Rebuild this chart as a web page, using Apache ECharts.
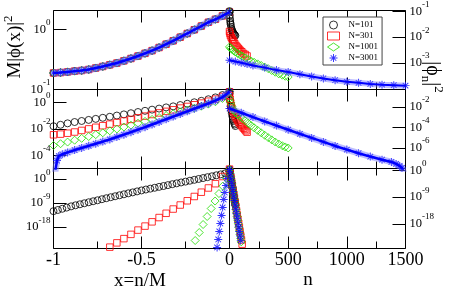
<!DOCTYPE html>
<html><head><meta charset="utf-8">
<script src="https://cdn.jsdelivr.net/npm/echarts@6/dist/echarts.min.js"></script>
<style>html,body{margin:0;padding:0;background:#fff}#c{width:457px;height:288px}</style>
</head><body><div id="c"></div>
<script>
// ---------------- DATA ----------------
const seriesNames = ['N=101', 'N=301', 'N=1001', 'N=3001'];

// shared x grid (x = n/M) for the left halves
const xL = [-1,-0.96,-0.92,-0.88,-0.84,-0.8,-0.76,-0.72,-0.68,-0.64,-0.6,-0.56,-0.52,-0.48,-0.44,-0.4,-0.36,-0.32,-0.28,-0.24,-0.2,-0.16,-0.12,-0.08,-0.04,0];

// panel 1 left: M|phi(x)|^2 (all N collapse)
const p1L = [0.189,0.192,0.197,0.203,0.208,0.216,0.229,0.243,0.259,0.277,0.302,0.330,0.363,0.403,0.447,0.504,0.573,0.653,0.750,0.865,1.00,1.153,1.334,1.496,1.706,1.972];

// panel 2 left
const p2L_N101 = [0.0162,0.0209,0.0269,0.0339,0.0407,0.0490,0.0589,0.0708,0.0851,0.105,0.129,0.158,0.195,0.240,0.295,0.355,0.437,0.525,0.661,0.832,1.07,1.38,1.82,2.51,3.80,7.08];
const p2L_N301 = [3.63e-3,4.07e-3,4.79e-3,5.89e-3,7.76e-3,1.02e-2,1.35e-2,1.78e-2,2.34e-2,3.09e-2,4.07e-2,5.37e-2,7.08e-2,9.55e-2,0.126,0.166,0.219,0.288,0.389,0.513,0.692,0.933,1.29,1.86,2.95,6.76];
const p2L_N1001 = [5.62e-4,7.59e-4,1.02e-3,1.41e-3,1.95e-3,2.69e-3,3.72e-3,5.13e-3,7.24e-3,1.0e-2,1.41e-2,1.95e-2,2.75e-2,3.80e-2,5.37e-2,7.41e-2,0.105,0.145,0.200,0.275,0.380,0.537,0.776,1.17,2.09,6.76];
const xP2L_N3001 = [-1,-0.995,-0.99,-0.98,-0.97,-0.95,-0.92,-0.88,-0.84,-0.8,-0.76,-0.72,-0.68,-0.64,-0.6,-0.56,-0.52,-0.48,-0.44,-0.4,-0.36,-0.32,-0.28,-0.24,-0.2,-0.16,-0.12,-0.08,-0.04,-0.02,0];
const p2L_N3001 = [3.2e-8,1.0e-6,6.3e-6,4.0e-5,8.9e-5,1.2e-4,1.66e-4,2.51e-4,3.63e-4,5.25e-4,7.59e-4,1.10e-3,1.62e-3,2.45e-3,3.72e-3,5.75e-3,8.91e-3,1.38e-2,2.19e-2,3.47e-2,5.50e-2,8.71e-2,0.138,0.219,0.347,0.550,0.871,1.45,2.63,3.98,7.08];

// panel 3 left
const xP3L_N101 = [-1,-0.975,-0.95,-0.925,-0.9,-0.875,-0.85,-0.825,-0.8,-0.775,-0.75,-0.725,-0.7,-0.675,-0.65,-0.625,-0.6,-0.575,-0.55,-0.525,-0.5,-0.475,-0.45,-0.425,-0.4,-0.375,-0.35,-0.325,-0.3,-0.275,-0.25,-0.225,-0.2,-0.175,-0.15,-0.125,-0.1,-0.075,-0.05,-0.025,0];
const p3L_N101 = [1.0e-12,2.8e-12,7.9e-12,2.2e-11,6.3e-11,1.6e-10,3.8e-10,9.1e-10,2.2e-9,5.2e-9,1.2e-8,3.0e-8,7.1e-8,1.7e-7,3.9e-7,9.1e-7,2.1e-6,4.9e-6,1.1e-5,2.6e-5,5.9e-5,1.3e-4,2.8e-4,5.9e-4,1.3e-3,2.7e-3,5.9e-3,1.3e-2,2.7e-2,5.8e-2,0.12,0.26,0.56,1.2,2.6,5.6,12,28,63,150,760];
const xP3L_N301 = [-0.72,-0.68,-0.64,-0.6,-0.56,-0.52,-0.48,-0.44,-0.4,-0.36,-0.32,-0.28,-0.24,-0.2,-0.16,-0.12,-0.08,-0.04,0];
const p3L_N301 = [1e-27,3.2e-26,1.3e-24,5.0e-23,2.0e-21,7.9e-20,2.5e-18,1.0e-16,4.0e-15,1.6e-13,6.3e-12,2.0e-10,7.9e-9,3.2e-7,1.3e-5,5.0e-4,2.0e-2,10,790];
const xP3L_N1001 = [-0.195,-0.172,-0.15,-0.127,-0.104,-0.082,-0.06,-0.038,-0.017,0];
const p3L_N1001 = [1e-23,1e-20,1e-17,1e-14,1e-11,6.3e-9,4.0e-6,2.5e-3,2.0,790];
const xP3L_N3001 = [-0.0705,-0.064,-0.058,-0.052,-0.045,-0.039,-0.033,-0.027,-0.02,-0.014,0];
const p3L_N3001 = [2.5e-26,2.5e-23,2.5e-20,2.5e-17,2.5e-14,2.5e-11,2.5e-8,1.0e-5,4.0e-3,1.8,790];

// panel 1 right: |phi_n|^2 vs n
const nP1R_N101 = [0,2,4,6,8,10,14,18,22,26,30,35,40,45,50];
const p1R_N101 = [0.104,0.0705,0.0537,0.0430,0.0359,0.0313,0.0250,0.0209,0.0183,0.0164,0.0150,0.0137,0.0127,0.0120,0.0115];
const nP1R_N301 = [0,4,8,15,22,30,37,45,55,65,75,85,95,105,120,135,150];
const p1R_N301 = [0.0167,0.0140,0.0116,0.0098,0.0085,0.0074,0.0065,0.0056,0.0047,0.00414,0.0037,0.0033,0.0029,0.0027,0.0023,0.0021,0.00185];
const nP1R_N1001 = [0,10,20,35,50,70,90,110,135,160,185,210,240,270,300,330,360,390,420,450,475,500];
const p1R_N1001 = [4.17e-3,3.72e-3,3.39e-3,2.95e-3,2.63e-3,2.29e-3,2.04e-3,1.82e-3,1.55e-3,1.35e-3,1.17e-3,1.05e-3,9.1e-4,7.9e-4,6.8e-4,5.9e-4,5.0e-4,4.3e-4,3.7e-4,3.3e-4,3.0e-4,2.8e-4];
const nP1R_N3001 = [0,50,100,150,200,300,400,500,600,700,800,900,1000,1100,1200,1300,1400,1500];
const p1R_N3001 = [1.26e-3,1.12e-3,1.0e-3,8.9e-4,7.9e-4,6.5e-4,5.2e-4,4.4e-4,3.6e-4,2.95e-4,2.45e-4,2.1e-4,1.82e-4,1.66e-4,1.51e-4,1.41e-4,1.35e-4,1.29e-4];

// panel 2 right
const nP2R_N101 = [0,5,10,15,20,25,30,35,40,45,50];
const p2R_N101 = [0.204,0.0427,0.0110,4.47e-3,2.29e-3,1.17e-3,6.6e-4,4.27e-4,2.69e-4,1.95e-4,1.38e-4];
const nP2R_N301 = [0,5,10,15,20,30,40,50,60,70,80,90,100,110,120,130,140,150];
const p2R_N301 = [0.132,0.0562,0.0251,0.0132,7.94e-3,3.55e-3,1.91e-3,1.12e-3,7.08e-4,4.68e-4,3.16e-4,2.19e-4,1.58e-4,1.15e-4,8.51e-5,6.31e-5,4.68e-5,3.47e-5];
const nP2R_N1001 = [0,10,20,35,50,70,90,110,135,160,185,210,240,270,300,330,360,390,420,450,475,500];
const p2R_N1001 = [0.0661,0.0251,0.0112,5.01e-3,3.16e-3,1.91e-3,1.17e-3,7.59e-4,4.37e-4,2.57e-4,1.51e-4,9.33e-5,5.25e-5,3.02e-5,1.74e-5,1.02e-5,6.17e-6,3.80e-6,2.45e-6,1.66e-6,1.26e-6,1.0e-6];
const nP2R_N3001 = [0,100,200,300,400,500,600,700,800,900,1000,1100,1200,1300,1380,1420,1450,1470,1485,1500];
const p2R_N3001 = [7.08e-3,2.69e-3,1.02e-3,3.89e-4,1.51e-4,6.03e-5,2.40e-5,9.55e-6,3.89e-6,1.58e-6,6.92e-7,3.09e-7,1.45e-7,7.24e-8,4.37e-8,2.82e-8,1.78e-8,1.12e-8,3.98e-9,1e-10];

// panel 3 right
const nP3R_N101 = [0,3,6,9,12,15,18,21,24,27,30,33,36,39,42,45,48,50];
const p3R_N101 = [2.5,0.48,0.091,0.017,3.3e-3,6.3e-4,1.2e-4,2.3e-5,4.4e-6,8.3e-7,1.6e-7,3.0e-8,5.8e-9,1.1e-9,2.1e-10,4.0e-11,7.6e-12,2.5e-12];
const nP3R_N301 = [0,6,12,18,24,30,36,42,48,54,60,66,72,78,84,90,96,102,108];
const p3R_N301 = [3.2,0.12,4.8e-3,1.9e-4,7.2e-6,2.8e-7,1.1e-8,4.3e-10,1.7e-11,6.5e-13,2.5e-14,9.8e-16,3.8e-17,1.5e-18,5.8e-20,2.2e-21,8.7e-23,3.4e-24,1.3e-25];
const nP3R_N1001 = [0,5,10,15,20,25,30,35,40,45,50,55,60,65,70,75,80,85,90,95,100];
const p3R_N1001 = [2.5,0.15,8.9e-3,5.2e-4,3.2e-5,1.9e-6,1.1e-7,6.6e-9,4.0e-10,2.3e-11,1.4e-12,8.3e-14,5.0e-15,3.0e-16,1.8e-17,1.0e-18,6.3e-20,3.7e-21,2.2e-22,1.3e-23,7.9e-25];
const nP3R_N3001 = [0,6,12,18,24,30,36,42,48,54,60,66,72,78,84,90,96];
const p3R_N3001 = [2.5,0.079,2.5e-3,7.9e-5,2.5e-6,7.9e-8,2.5e-9,7.9e-11,2.5e-12,7.9e-14,2.5e-15,7.9e-17,2.5e-18,7.9e-20,2.5e-21,7.9e-23,2.5e-24];

// tick labels (exponents of 10 shown on each y axis)
const yTicksP1L = [-1, 0];
const yTicksP1R = [-3, -2, -1];
const yTicksP2L = [-4, -2, 0];
const yTicksP2R = [-6, -4, -2];
const yTicksP3L = [-18, -9, 0];
const yTicksP3R = [-18, -9, 0];
const xTicksLeft = [-1, -0.5, 0];
const xTicksRight = [500, 1000, 1500];

// ---------------- STYLE / OPTION ----------------
const FONT = '"Liberation Serif","Times New Roman",serif';
const STAR = 'path://M8.8,0h2.4v20h-2.4z M0,8.8h20v2.4h-20z M2.2,3.9 L3.9,2.2 L17.8,16.1 L16.1,17.8z M16.1,2.2 L17.8,3.9 L3.9,17.8 L2.2,16.1z';
const GREEN = '#22dd00';
const SYM = {
  'N=101': {symbol: 'circle', symbolSize: 7, itemStyle: {color: 'rgba(0,0,0,0)', borderColor: '#000', borderWidth: 1}},
  'N=301': {symbol: 'rect', symbolSize: 6.5, itemStyle: {color: 'rgba(0,0,0,0)', borderColor: '#ff0000', borderWidth: 1}},
  'N=1001': {symbol: 'diamond', symbolSize: 8, itemStyle: {color: 'rgba(0,0,0,0)', borderColor: GREEN, borderWidth: 1}},
  'N=3001': {symbol: STAR, symbolSize: 8, itemStyle: {color: '#0000ff'}}
};
// y values are plotted on decade (log10) value axes
function pairs(xs, ys) { return xs.map((x, i) => [x, Math.log10(ys[i])]); }
function sc(name, g, xs, ys) {
  return Object.assign({type: 'scatter', name, xAxisIndex: 2 * g, yAxisIndex: g, data: pairs(xs, ys),
    silent: true, animation: false, clip: true}, SYM[name]);
}
function band(g, xs, ys, w, halo) {
  const d = pairs(xs, ys);
  return [
    {type: 'line', name: 'band', xAxisIndex: 2 * g, yAxisIndex: g, data: d, symbol: 'none', silent: true,
      animation: false, clip: true, lineStyle: {width: w + halo, color: 'rgba(110,110,255,0.45)'}},
    {type: 'line', name: 'band', xAxisIndex: 2 * g, yAxisIndex: g, data: d, symbol: 'none', silent: true,
      animation: false, clip: true, lineStyle: {width: w, color: '#0000ff'}}
  ];
}

const grids = [];
const tops = [10.5, 89.5, 168.5];
const hs = [79, 79, 80];
for (let r = 0; r < 3; r++) {
  grids.push({left: 53.5, top: tops[r], width: 176, height: hs[r], show: true, borderColor: '#000', borderWidth: 1, backgroundColor: 'rgba(0,0,0,0)'});
  grids.push({left: 229.5, top: tops[r], width: 176, height: hs[r], show: true, borderColor: '#000', borderWidth: 1, backgroundColor: 'rgba(0,0,0,0)'});
}

const xAxes = [];
for (let g = 0; g < 6; g++) {
  const left = g % 2 === 0;
  ['bottom', 'top'].forEach(pos => {
    const showLab = g >= 4 && pos === 'bottom';
    xAxes.push({
      type: 'value', gridIndex: g, position: pos,
      min: left ? -1 : 0, max: left ? 0 : 1500, interval: left ? 0.5 : 500,
      axisLine: {show: false, onZero: false}, splitLine: {show: false},
      axisTick: {show: true, inside: true, length: 12, lineStyle: {color: '#000', width: 1}},
      minorTick: {show: true, splitNumber: 2, length: 7, lineStyle: {color: '#000', width: 1}},
      axisLabel: {show: showLab, margin: 3, color: '#000', fontFamily: FONT, fontSize: 18,
        showMinLabel: true, showMaxLabel: true, hideOverlap: false,
        formatter: v => {
          const list = left ? xTicksLeft : xTicksRight;
          return list.indexOf(v) >= 0 ? String(v) : '';
        }}
    });
  });
}

const yRich = {
  b: {fontFamily: FONT, fontSize: 12.5, color: '#000', padding: [5, 0, 5, 0]},
  s: {fontFamily: FONT, fontSize: 9, color: '#000', verticalAlign: 'top', lineHeight: 10}
};
// decade ranges of each panel's y axis (exponent of 10)
const yDefs = [
  {pos: 'left', min: -1, max: 0.322, list: yTicksP1L},
  {pos: 'right', min: -4.04, max: -0.96, list: yTicksP1R},
  {pos: 'left', min: -5, max: 1, list: yTicksP2L},
  {pos: 'right', min: -8, max: -0.301, list: yTicksP2R},
  {pos: 'left', min: -26, max: 4, list: yTicksP3L},
  {pos: 'right', min: -26.35, max: 0.71, list: yTicksP3R}
];
const yAxes = yDefs.map((d, g) => ({
  type: 'value', gridIndex: g, position: d.pos, min: d.min, max: d.max,
  axisLine: {show: false, onZero: false}, splitLine: {show: false}, minorTick: {show: false},
  axisTick: {show: true, inside: true, length: 13, customValues: d.list, lineStyle: {color: '#000', width: 1}},
  axisLabel: {margin: d.pos === 'left' ? 3 : 4, customValues: d.list, rich: yRich,
    showMinLabel: true, showMaxLabel: true, hideOverlap: false,
    formatter: v => '{b|10}{s|' + Math.round(v) + '}'}
}));

const series = [
  // panel 1 left
  sc('N=101', 0, xL, p1L), sc('N=301', 0, xL, p1L), sc('N=1001', 0, xL, p1L),
  ...band(0, xL, p1L, 2.5, 5), sc('N=3001', 0, xL, p1L),
  // panel 1 right
  sc('N=101', 1, nP1R_N101, p1R_N101), sc('N=301', 1, nP1R_N301, p1R_N301), sc('N=1001', 1, nP1R_N1001, p1R_N1001),
  ...band(1, nP1R_N3001, p1R_N3001, 2, 4), sc('N=3001', 1, nP1R_N3001, p1R_N3001),
  // panel 2 left
  sc('N=101', 2, xL, p2L_N101), sc('N=301', 2, xL, p2L_N301), sc('N=1001', 2, xL, p2L_N1001),
  ...band(2, xP2L_N3001, p2L_N3001, 2.5, 4), sc('N=3001', 2, xP2L_N3001, p2L_N3001),
  // panel 2 right
  sc('N=101', 3, nP2R_N101, p2R_N101), sc('N=301', 3, nP2R_N301, p2R_N301), sc('N=1001', 3, nP2R_N1001, p2R_N1001),
  ...band(3, nP2R_N3001, p2R_N3001, 2.5, 4), sc('N=3001', 3, nP2R_N3001, p2R_N3001),
  // panel 3 left
  sc('N=101', 4, xP3L_N101, p3L_N101), sc('N=301', 4, xP3L_N301, p3L_N301), sc('N=1001', 4, xP3L_N1001, p3L_N1001),
  sc('N=3001', 4, xP3L_N3001, p3L_N3001),
  // panel 3 right
  sc('N=101', 5, nP3R_N101, p3R_N101), sc('N=301', 5, nP3R_N301, p3R_N301), sc('N=1001', 5, nP3R_N1001, p3R_N1001),
  sc('N=3001', 5, nP3R_N3001, p3R_N3001)
];

const option = {
  animation: false,
  backgroundColor: '#fff',
  grid: grids, xAxis: xAxes, yAxis: yAxes, series,
  legend: {
    show: true, orient: 'vertical', left: 323, top: 17, padding: [3, 4, 2, 4], itemGap: 1,
    itemWidth: 12, itemHeight: 8, borderColor: '#444', borderWidth: 1, backgroundColor: '#fff',
    selectedMode: false,
    textStyle: {fontFamily: FONT, fontSize: 9, color: '#000', lineHeight: 10, padding: [0, 0, 0, 4]},
    data: [
      {name: 'N=101', icon: 'circle', itemStyle: {color: 'rgba(0,0,0,0)', borderColor: '#000', borderWidth: 1}},
      {name: 'N=301', icon: 'rect', itemStyle: {color: 'rgba(0,0,0,0)', borderColor: '#ff0000', borderWidth: 1}},
      {name: 'N=1001', icon: 'diamond', itemStyle: {color: 'rgba(0,0,0,0)', borderColor: GREEN, borderWidth: 1}},
      {name: 'N=3001', icon: STAR, itemStyle: {color: '#0000ff', borderWidth: 0}}
    ]
  },
  graphic: [
    {type: 'text', x: 15, y: 47, rotation: Math.PI / 2, silent: true,
      style: {text: 'M|ϕ(x)|{s|2}', font: '19px ' + FONT, fill: '#000', align: 'center', verticalAlign: 'middle', lineHeight: 26,
        rich: {s: {fontFamily: FONT, fontSize: 13, fill: '#000', verticalAlign: 'top', lineHeight: 12}}}},
    {type: 'text', x: 432, y: 77, rotation: -Math.PI / 2, silent: true,
      style: {text: '|ϕ{n|n}|{s|2}', font: '20px ' + FONT, fill: '#000', align: 'center', verticalAlign: 'middle', lineHeight: 26,
        rich: {s: {fontFamily: FONT, fontSize: 13, fill: '#000', verticalAlign: 'top', lineHeight: 12},
               n: {fontFamily: FONT, fontSize: 13, fill: '#000', verticalAlign: 'bottom', lineHeight: 12}}}},
    {type: 'text', x: 140, y: 281, silent: true,
      style: {text: 'x=n/M', font: '19px ' + FONT, fill: '#000', align: 'center', verticalAlign: 'middle'}},
    {type: 'text', x: 308, y: 280, silent: true,
      style: {text: 'n', font: '19px ' + FONT, fill: '#000', align: 'center', verticalAlign: 'middle'}}
  ]
};

const chart = echarts.init(document.getElementById('c'), null, {renderer: 'canvas'});
chart.setOption(option);
</script>
</body></html>
